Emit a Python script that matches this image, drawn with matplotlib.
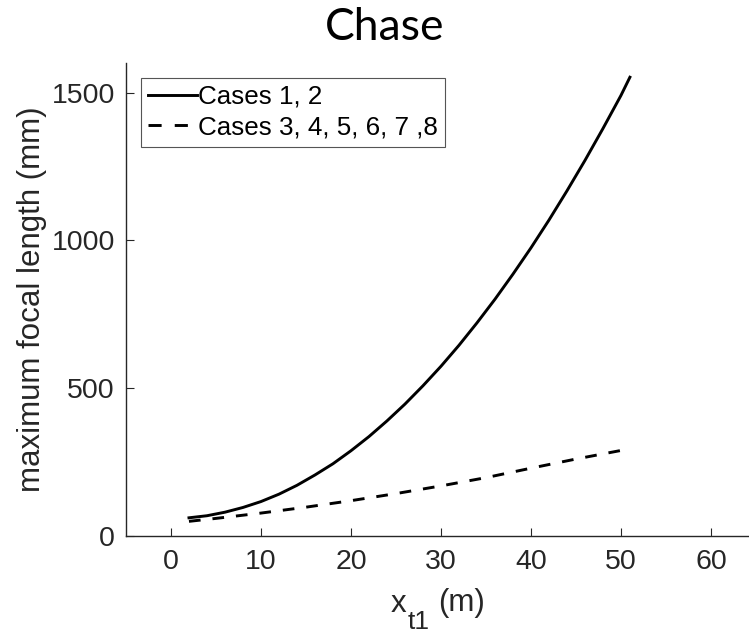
import numpy as np
import matplotlib
matplotlib.use('Agg')
import matplotlib.pyplot as plt

# values
x_cases12 = [2, 4, 6, 8, 10, 12, 14, 16, 18, 20, 22, 24, 26, 28, 30, 32, 34,
             36, 38, 40, 42, 44, 46, 48, 50, 51]
y_cases12 = [60, 67, 79, 95, 115, 140, 170, 205, 243, 287, 335, 388, 445, 507,
             573, 644, 720, 800, 885, 974, 1068, 1167, 1270, 1378, 1490, 1552]

x_cases38 = [2, 5, 10, 15, 20, 25, 30, 35, 40, 45, 50]
y_cases38 = [48, 58, 76, 96, 118, 142, 168, 196, 228, 259, 288]

labels = ['Cases 1, 2', 'Cases 3, 4, 5, 6, 7 ,8']
x_ticks = [0, 10, 20, 30, 40, 50, 60]
y_ticks = [0, 500, 1000, 1500]

plt.rcParams['font.family'] = ['Liberation Sans', 'DejaVu Sans']

axcol = '#262626'
fs = 20.5        # tick labels
fs_lab = 22.5    # axis labels (MATLAB 1.1x)
fs_leg = 18.7    # legend (MATLAB 0.9x)

W, H = 749, 633
fig = plt.figure(figsize=(W / 100, H / 100), dpi=100)
ax = fig.add_axes([0.1682, 0.154, 0.841, 0.7464])

ax.plot(x_cases12, y_cases12, color='black', lw=2.1, label=labels[0])
ax.plot(x_cases38, y_cases38, color='black', lw=2.1, dashes=(4, 4.1),
        label=labels[1])

ax.set_xlim(-5, 65)
ax.set_ylim(0, 1600)
ax.set_xticks(x_ticks)
ax.set_yticks(y_ticks)

for side in ['top', 'right']:
    ax.spines[side].set_visible(False)
for side in ['left', 'bottom']:
    ax.spines[side].set_color(axcol)
    ax.spines[side].set_linewidth(1.0)

ax.tick_params(direction='in', length=6, width=0.8, colors=axcol,
               labelsize=fs, labelcolor=axcol)
ax.tick_params(axis='x', pad=9.5)
ax.tick_params(axis='y', pad=8)

ax.set_ylabel('maximum focal length (mm)', fontsize=fs_lab, color=axcol)
ax.yaxis.set_label_coords(-0.125, 0.5)

# x label with a near full-size subscript, as MATLAB draws it
fig.text(391 / W, 21.5 / H, 'x', fontsize=fs_lab, color=axcol,
         ha='left', va='baseline')
fig.text(407.5 / W, 4 / H, 't1', fontsize=19, color=axcol,
         ha='left', va='baseline')
fig.text(438.5 / W, 21.5 / H, '(m)', fontsize=fs_lab, color=axcol,
         ha='left', va='baseline')

leg = ax.legend(loc='upper left', bbox_to_anchor=(0.0238, 0.969),
                borderaxespad=0, fontsize=fs_leg, handlelength=1.86,
                handletextpad=0.05, borderpad=0.28, labelspacing=0.25,
                fancybox=False, framealpha=1)
leg.get_frame().set_edgecolor('#555555')
leg.get_frame().set_linewidth(0.8)
# MATLAB shows two clean dashes in the legend sample
leg.get_lines()[1].set_dashes((4.5, 4.5))

fig.text(385 / W, 1 - 28 / H, 'Chase', fontsize=32, family='Lato',
         ha='center', va='center', color='black')

fig.savefig('out.png', dpi=100)
